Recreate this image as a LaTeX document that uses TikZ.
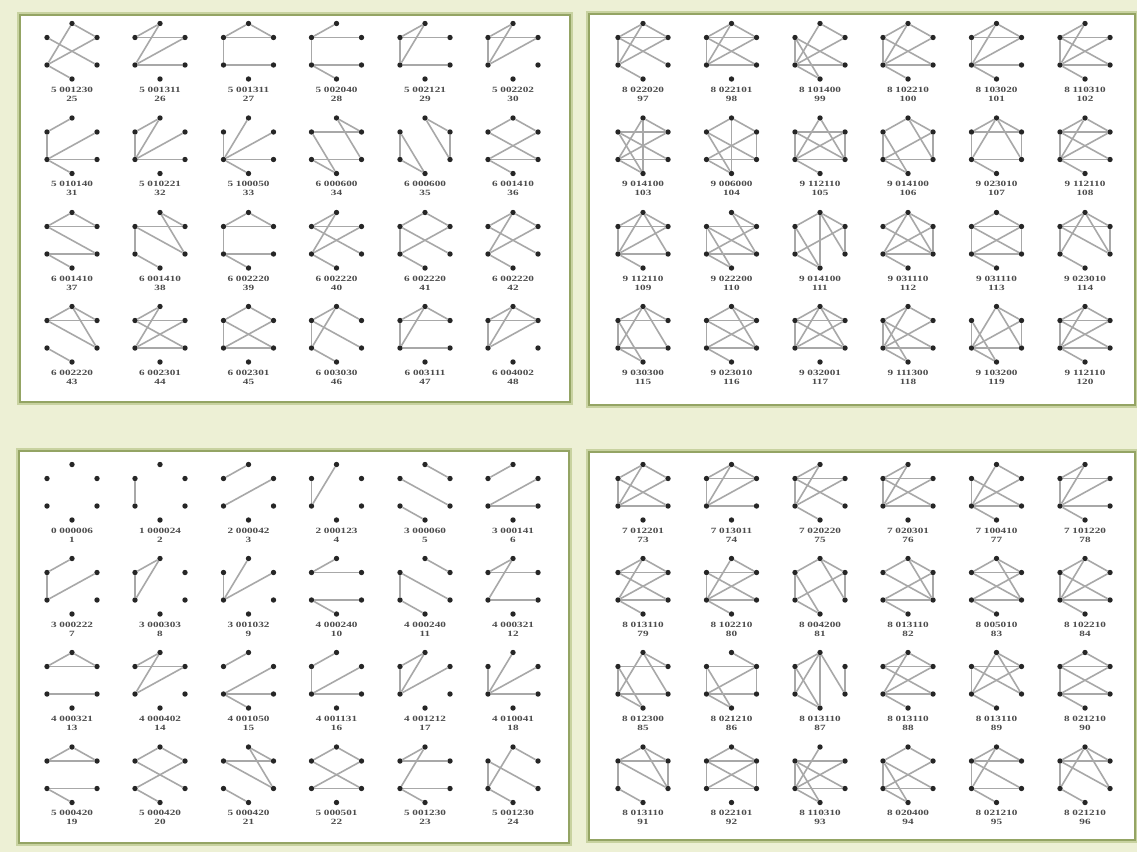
\documentclass[tikz,border=0pt]{standalone}
\usepackage{tikz}
\usepackage{fontspec}
\newfontfamily\labelfont{Liberation Serif}
\definecolor{paper}{RGB}{237,240,213}
\definecolor{frameglow}{RGB}{200,210,160}
\definecolor{frameline}{RGB}{148,164,100}
\colorlet{edgegray}{black!34}
\newcommand{\wide}[1]{\scalebox{1.4}[1]{#1}}
% one graph on six vertices, #2/#3 = top vertex
\newcommand{\sixgraph}[5]{%
  \begin{scope}[shift={(#2,#3)}]
    \node[vtx] (g#1a) at (0,0) {};
    \node[vtx] (g#1b) at (-25,14) {};
    \node[vtx] (g#1c) at (25,14) {};
    \node[vtx] (g#1d) at (-25,41.5) {};
    \node[vtx] (g#1e) at (25,41.5) {};
    \node[vtx] (g#1f) at (0,55.5) {};
    \foreach \u/\v in {#4} \draw[edg] (g#1\u) -- (g#1\v);
    \node[lbl] (g#1l) at (0,70.5) {\wide{#5}\\\wide{#1}};
  \end{scope}}

\begin{document}
\begin{tikzpicture}[x=1pt, y=-1pt,
    vtx/.style={circle, fill=black!85, inner sep=0pt, minimum size=5.4pt},
    edg/.style={edgegray, line width=1.6pt},
    lbl/.style={align=center, text=black!70, inner sep=0pt,
      font=\labelfont\fontsize{8}{9}\selectfont\bfseries},
    panelglow/.style={frameglow, line width=5.5pt},
    panelbox/.style={fill=white, draw=frameline, line width=1.4pt}]
  % Background
  \fill[paper] (0,0) rectangle (1137,852);
  \useasboundingbox (0,0) rectangle (1137,852);
  % Panels
  \draw[panelglow] (20,15) rectangle (570,402);
  \draw[panelbox] (20,15) rectangle (570,402);
  \draw[panelglow] (589,14) rectangle (1135,405);
  \draw[panelbox] (589,14) rectangle (1135,405);
  \draw[panelglow] (19,451) rectangle (569,843);
  \draw[panelbox] (19,451) rectangle (569,843);
  \draw[panelglow] (589,452) rectangle (1135,840);
  \draw[panelbox] (589,452) rectangle (1135,840);

  % Top left: 25 to 48
  \sixgraph{25}{72}{23.5}{a/c,a/d,b/e,c/d,d/f}{5 001230}
  \sixgraph{26}{160}{23.5}{a/b,a/d,b/c,c/d,d/e}{5 001311}
  \sixgraph{27}{248.5}{23.5}{a/b,a/c,b/c,b/d,d/e}{5 001311}
  \sixgraph{28}{336.5}{23.5}{a/b,b/c,b/d,d/e,d/f}{5 002040}
  \sixgraph{29}{425}{23.5}{a/b,a/d,b/c,b/d,d/e}{5 002121}
  \sixgraph{30}{513}{23.5}{a/b,a/d,b/c,b/d,c/d}{5 002202}
  \sixgraph{31}{72}{118}{a/b,b/d,c/d,d/e,d/f}{5 010140}
  \sixgraph{32}{160}{118}{a/b,a/d,b/d,c/d,d/e}{5 010221}
  \sixgraph{33}{248.5}{118}{b/d,a/d,c/d,d/e,d/f}{5 100050}
  \sixgraph{34}{336.5}{118}{a/c,b/c,a/e,b/f,d/e,d/f}{6 000600}
  \sixgraph{35}{425}{118}{a/c,c/e,a/e,b/d,b/f,d/f}{6 000600}
  \sixgraph{36}{513}{118}{a/b,a/c,b/e,c/d,d/e,d/f}{6 001410}
  \sixgraph{37}{72}{212.5}{a/b,a/c,b/c,b/e,d/e,d/f}{6 001410}
  \sixgraph{38}{160}{212.5}{a/c,b/c,b/e,a/e,b/d,d/f}{6 001410}
  \sixgraph{39}{248.5}{212.5}{a/b,a/c,b/c,b/d,d/e,d/f}{6 002220}
  \sixgraph{40}{336.5}{212.5}{a/b,a/d,b/c,b/e,c/d,d/f}{6 002220}
  \sixgraph{41}{425}{212.5}{a/b,a/c,b/d,b/e,c/d,d/f}{6 002220}
  \sixgraph{42}{513}{212.5}{a/b,a/c,a/d,b/e,c/d,d/f}{6 002220}
  \sixgraph{43}{72}{306.5}{a/b,a/c,b/c,b/e,a/e,d/f}{6 002220}
  \sixgraph{44}{160}{306.5}{a/b,a/d,b/c,b/e,c/d,d/e}{6 002301}
  \sixgraph{45}{248.5}{306.5}{a/b,a/c,b/d,b/e,c/d,d/e}{6 002301}
  \sixgraph{46}{336.5}{306.5}{a/b,a/c,a/d,b/d,b/e,d/f}{6 003030}
  \sixgraph{47}{425}{306.5}{a/b,a/c,a/d,b/c,b/d,d/e}{6 003111}
  \sixgraph{48}{513}{306.5}{a/b,a/c,a/d,b/c,b/d,c/d}{6 004002}

  % Top right: 97 to 120
  \sixgraph{97}{643}{23.5}{a/b,a/c,a/d,b/c,b/d,b/e,c/d,d/f}{8 022020}
  \sixgraph{98}{731.5}{23.5}{a/b,a/c,a/d,b/c,b/d,b/e,c/d,d/e}{8 022101}
  \sixgraph{99}{820}{23.5}{a/c,a/d,b/d,b/e,b/f,c/d,d/e,d/f}{8 101400}
  \sixgraph{100}{908}{23.5}{a/b,a/c,a/d,b/d,b/e,c/d,d/e,d/f}{8 102210}
  \sixgraph{101}{996.5}{23.5}{a/b,a/c,a/d,b/c,b/d,c/d,d/e,d/f}{8 103020}
  \sixgraph{102}{1085}{23.5}{a/b,a/d,b/c,b/d,b/e,c/d,d/e,d/f}{8 110310}
  \sixgraph{103}{643}{118}{a/c,a/d,a/f,b/c,b/e,b/f,c/d,d/e,d/f}{9 014100}
  \sixgraph{104}{731.5}{118}{a/b,a/c,a/f,b/e,b/f,c/d,c/e,d/f,d/e}{9 006000}
  \sixgraph{105}{820}{118}{a/d,a/e,b/c,b/e,c/d,b/d,d/e,d/f,c/e}{9 112110}
  \sixgraph{106}{908}{118}{a/b,a/c,a/e,b/d,b/f,c/d,c/e,d/f,d/e}{9 014100}
  \sixgraph{107}{996.5}{118}{a/b,a/c,a/d,a/e,b/c,b/d,c/e,d/e,d/f}{9 023010}
  \sixgraph{108}{1085}{118}{a/b,a/c,b/c,b/e,c/d,d/e,d/f,b/d,a/d}{9 112110}
  \sixgraph{109}{643}{212.5}{a/b,a/c,a/e,b/c,b/d,c/d,d/e,d/f,a/d}{9 112110}
  \sixgraph{110}{731.5}{212.5}{a/c,b/c,b/d,b/e,c/d,d/e,d/f,b/f,a/e}{9 022200}
  \sixgraph{111}{820}{212.5}{a/b,a/c,a/e,a/f,b/d,b/f,c/d,c/e,d/f}{9 014100}
  \sixgraph{112}{908}{212.5}{a/b,a/c,a/d,a/e,b/e,c/d,c/e,d/e,d/f}{9 031110}
  \sixgraph{113}{996.5}{212.5}{a/b,a/c,b/c,b/d,b/e,c/d,c/e,d/e,d/f}{9 031110}
  \sixgraph{114}{1085}{212.5}{a/b,a/c,a/d,a/e,b/c,b/d,b/e,c/e,d/f}{9 023010}
  \sixgraph{115}{643}{306.5}{a/b,a/c,a/d,a/e,b/c,b/d,b/f,d/e,d/f}{9 030300}
  \sixgraph{116}{731.5}{306.5}{a/b,a/c,a/e,b/c,b/d,b/e,c/d,d/e,d/f}{9 023010}
  \sixgraph{117}{820}{306.5}{a/b,a/c,a/d,a/e,b/c,b/d,b/e,c/d,d/e}{9 032001}
  \sixgraph{118}{908}{306.5}{a/b,a/c,a/d,b/d,b/e,b/f,c/d,d/e,d/f}{9 111300}
  \sixgraph{119}{996.5}{306.5}{a/c,a/d,a/e,b/d,b/f,c/d,c/e,d/e,d/f}{9 103200}
  \sixgraph{120}{1085}{306.5}{a/b,a/c,a/d,b/c,b/d,b/e,c/d,d/e,d/f}{9 112110}

  % Bottom left: 1 to 24
  \sixgraph{1}{72}{464.5}{}{0 000006}
  \sixgraph{2}{160}{464.5}{b/d}{1 000024}
  \sixgraph{3}{248.5}{464.5}{a/b,d/c}{2 000042}
  \sixgraph{4}{336.5}{464.5}{a/d,b/d}{2 000123}
  \sixgraph{5}{425}{464.5}{a/c,b/e,d/f}{3 000060}
  \sixgraph{6}{513}{464.5}{a/b,d/c,d/e}{3 000141}
  \sixgraph{7}{72}{558.5}{a/b,b/d,d/c}{3 000222}
  \sixgraph{8}{160}{558.5}{a/b,b/d,d/a}{3 000303}
  \sixgraph{9}{248.5}{558.5}{d/b,d/a,d/c}{3 001032}
  \sixgraph{10}{336.5}{558.5}{b/a,b/c,d/e,d/f}{4 000240}
  \sixgraph{11}{425}{558.5}{a/c,b/d,b/e,d/f}{4 000240}
  \sixgraph{12}{513}{558.5}{a/b,b/c,a/d,d/e}{4 000321}
  \sixgraph{13}{72}{652.5}{a/b,a/c,b/c,d/e}{4 000321}
  \sixgraph{14}{160}{652.5}{a/b,b/c,a/d,d/c}{4 000402}
  \sixgraph{15}{248.5}{652.5}{a/b,d/c,d/e,d/f}{4 001050}
  \sixgraph{16}{336.5}{652.5}{a/b,b/d,d/c,d/e}{4 001131}
  \sixgraph{17}{425}{652.5}{a/b,b/d,a/d,d/c}{4 001212}
  \sixgraph{18}{513}{652.5}{d/b,d/a,d/c,d/e}{4 010041}
  \sixgraph{19}{72}{747}{a/b,a/c,b/c,d/e,d/f}{5 000420}
  \sixgraph{20}{160}{747}{a/b,a/c,b/e,d/c,d/f}{5 000420}
  \sixgraph{21}{248.5}{747}{a/c,b/c,b/e,a/e,d/f}{5 000420}
  \sixgraph{22}{336.5}{747}{a/b,a/c,b/e,d/c,d/e}{5 000501}
  \sixgraph{23}{425}{747}{a/b,b/c,a/d,d/e,d/f}{5 001230}
  \sixgraph{24}{513}{747}{a/c,a/d,b/d,b/e,d/f}{5 001230}

  % Bottom right: 73 to 96
  \sixgraph{73}{643}{464.5}{a/b,a/d,b/e,d/c,b/d,d/e,a/c}{7 012201}
  \sixgraph{74}{731.5}{464.5}{a/b,a/c,b/c,b/d,a/d,d/c,d/e}{7 013011}
  \sixgraph{75}{820}{464.5}{a/b,a/d,b/c,b/e,d/c,b/d,d/f}{7 020220}
  \sixgraph{76}{908}{464.5}{a/b,a/d,b/c,b/e,d/c,b/d,d/e}{7 020301}
  \sixgraph{77}{996.5}{464.5}{a/c,a/d,b/e,d/c,b/d,d/e,d/f}{7 100410}
  \sixgraph{78}{1085}{464.5}{a/b,a/d,b/c,b/d,d/c,d/e,d/f}{7 101220}
  \sixgraph{79}{643}{558.5}{a/b,a/c,b/c,a/d,b/e,d/c,d/e,d/f}{8 013110}
  \sixgraph{80}{731.5}{558.5}{a/c,b/c,b/d,b/e,d/c,d/e,d/f,a/d}{8 102210}
  \sixgraph{81}{820}{558.5}{a/b,a/c,b/d,c/e,b/f,c/d,d/f,a/e}{8 004200}
  \sixgraph{82}{908}{558.5}{a/b,b/e,c/d,c/e,d/e,d/f,a/c,a/e}{8 013110}
  \sixgraph{83}{996.5}{558.5}{a/b,a/c,b/c,b/e,c/d,d/e,d/f,a/e}{8 005010}
  \sixgraph{84}{1085}{558.5}{a/b,a/c,a/d,b/e,c/d,d/e,d/f,b/d}{8 102210}
  \sixgraph{85}{643}{652.5}{a/c,a/d,a/e,b/c,b/d,b/f,d/e,d/f}{8 012300}
  \sixgraph{86}{731.5}{652.5}{a/c,b/c,b/d,b/f,c/d,d/e,c/e,d/f}{8 021210}
  \sixgraph{87}{820}{652.5}{a/b,a/e,a/d,b/d,b/f,c/e,d/f,a/f}{8 013110}
  \sixgraph{88}{908}{652.5}{a/b,a/c,b/c,b/e,c/d,d/e,d/f,a/d}{8 013110}
  \sixgraph{89}{996.5}{652.5}{a/c,a/d,a/e,b/c,b/d,c/d,d/f,b/e}{8 013110}
  \sixgraph{90}{1085}{652.5}{a/b,a/c,b/c,b/d,b/e,c/d,d/f,d/e}{8 021210}
  \sixgraph{91}{643}{747}{a/b,a/c,b/c,b/d,b/e,a/e,d/f,c/e}{8 013110}
  \sixgraph{92}{731.5}{747}{a/b,a/c,b/c,b/d,b/e,c/d,d/e,c/e}{8 022101}
  \sixgraph{93}{820}{747}{a/d,b/c,b/d,b/e,c/d,d/e,d/f,b/f}{8 110310}
  \sixgraph{94}{908}{747}{a/b,a/c,b/d,b/e,c/d,d/e,d/f,b/f}{8 020400}
  \sixgraph{95}{996.5}{747}{a/c,a/d,b/c,b/d,b/e,d/e,d/f,a/b}{8 021210}
  \sixgraph{96}{1085}{747}{a/b,a/c,a/d,b/d,b/e,b/c,d/f,a/e}{8 021210}
\end{tikzpicture}
\end{document}
